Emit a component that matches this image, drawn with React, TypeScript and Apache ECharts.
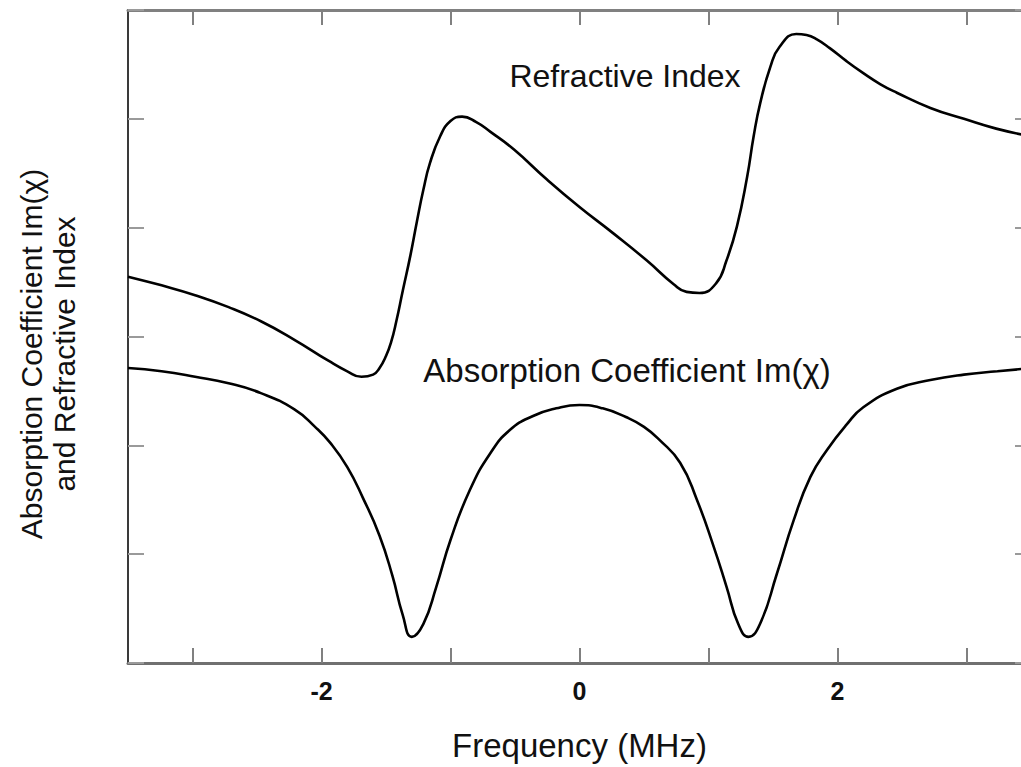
import React, { useEffect, useRef } from "react";
import * as echarts from "echarts";

// Frequency (MHz) sample positions and values
const absX = [
  -3.5, -3.24, -2.98, -2.72, -2.47, -2.21, -2.05, -1.93, -1.8, -1.68, -1.55, -1.45,
  -1.37, -1.3, -1.21, -1.11, -1.0, -0.85, -0.69, -0.54, -0.36, -0.18, 0.0, 0.18,
  0.36, 0.5, 0.62, 0.78, 0.91, 1.04, 1.14, 1.23, 1.31, 1.4, 1.53, 1.66, 1.79, 1.92,
  2.07, 2.2, 2.46, 2.72, 2.98, 3.24, 3.5,
];
const absY = [
  2.71, 2.68, 2.63, 2.57, 2.48, 2.33, 2.17, 2.02, 1.8, 1.52, 1.17, 0.8,
  0.44, 0.24, 0.36, 0.7, 1.13, 1.59, 1.93, 2.14, 2.27, 2.34, 2.37, 2.34,
  2.26, 2.17, 2.05, 1.84, 1.5, 1.07, 0.7, 0.36, 0.24, 0.36, 0.82, 1.31, 1.71, 1.96,
  2.19, 2.35, 2.52, 2.6, 2.65, 2.68, 2.71,
];

const refX = [
  -3.5, -3.24, -2.98, -2.72, -2.47, -2.21, -1.95, -1.8, -1.69, -1.6, -1.55, -1.5, -1.46,
  -1.42, -1.37, -1.31, -1.26, -1.21, -1.16, -1.08, -1.0, -0.91, -0.8, -0.69, -0.51,
  -0.25, 0.0, 0.26, 0.52, 0.73, 0.83, 0.93, 1.06, 1.14, 1.22, 1.3, 1.35, 1.4, 1.48,
  1.55, 1.68, 1.76, 1.84, 1.94, 2.07, 2.2, 2.33, 2.46, 2.72, 2.98, 3.23, 3.5,
];
const refY = [
  3.55, 3.47, 3.38, 3.27, 3.14, 2.97, 2.78, 2.68, 2.63, 2.65, 2.71, 2.82, 2.95,
  3.14, 3.42, 3.75, 4.06, 4.35, 4.59, 4.84, 4.98, 5.02, 4.97, 4.88, 4.72,
  4.44, 4.19, 3.95, 3.7, 3.48, 3.41, 3.4, 3.49, 3.7, 4.01, 4.47, 4.84, 5.14, 5.48,
  5.66, 5.78, 5.77, 5.73, 5.65, 5.53, 5.42, 5.32, 5.24, 5.1, 5.0, 4.91, 4.84,
];

const xTicks = [-3, -2, -1, 0, 1, 2, 3];
const xLabels = [-2, 0, 2];

const FONT = "'Liberation Sans', Arial, Helvetica, sans-serif";

export default function App() {
  const ref = useRef<HTMLDivElement>(null);

  useEffect(() => {
    if (!ref.current) return;
    const chart = echarts.init(ref.current, null, { renderer: "svg" });
    const absData = absX.map((x, i) => [x, absY[i]]);
    const refData = refX.map((x, i) => [x, refY[i]]);

    const tickGray = "#808080";

    const yAxisBase = (position: string) => ({
      type: "value",
      position,
      min: 0,
      max: 6,
      interval: 1,
      axisLine: { show: true, onZero: false, lineStyle: { color: "#3a3a3a", width: 2 } },
      axisTick: { show: true, inside: true, length: 16, lineStyle: { color: "#9a9a9a", width: 2 } },
      axisLabel: { show: false },
      splitLine: { show: false },
    });

    chart.setOption({
      animation: false,
      backgroundColor: "#fff",
      grid: { left: 128, top: 10, width: 903, height: 653, containLabel: false },
      xAxis: [
        {
          type: "value",
          position: "bottom",
          min: -3.5,
          max: 3.5,
          axisLine: { show: true, onZero: false, lineStyle: { color: "#707070", width: 3 } },
          axisTick: {
            show: true,
            inside: true,
            length: 15,
            customValues: xTicks,
            lineStyle: { color: tickGray, width: 2 },
          },
          axisLabel: {
            show: true,
            customValues: xLabels,
            fontSize: 25,
            fontWeight: "bold",
            color: "#111",
            margin: 15,
            fontFamily: FONT,
          },
          splitLine: { show: false },
          name: "Frequency (MHz)",
          nameLocation: "middle",
          nameGap: 66,
          nameTextStyle: { fontSize: 33, color: "#111", fontFamily: FONT },
        },
        {
          type: "value",
          position: "top",
          min: -3.5,
          max: 3.5,
          axisLine: { show: true, onZero: false, lineStyle: { color: "#808080", width: 3 } },
          axisTick: {
            show: true,
            inside: true,
            length: 15,
            customValues: xTicks,
            lineStyle: { color: tickGray, width: 2 },
          },
          axisLabel: { show: false },
          splitLine: { show: false },
        },
      ],
      yAxis: [yAxisBase("left"), yAxisBase("right")],
      series: [
        {
          name: "Refractive Index",
          type: "line",
          xAxisIndex: 0,
          yAxisIndex: 0,
          data: refData,
          showSymbol: false,
          symbol: "none",
          smooth: 0.5,
          lineStyle: { color: "#000", width: 2.6 },
        },
        {
          name: "Absorption Coefficient Im(χ)",
          type: "line",
          xAxisIndex: 0,
          yAxisIndex: 0,
          data: absData,
          showSymbol: false,
          symbol: "none",
          smooth: 0.5,
          lineStyle: { color: "#000", width: 2.6 },
        },
      ],
      graphic: [
        {
          type: "text",
          x: 625,
          y: 76,
          style: {
            text: "Refractive Index",
            fontSize: 32,
            fontFamily: FONT,
            fill: "#111",
            textAlign: "center",
            textVerticalAlign: "middle",
          },
        },
        {
          type: "text",
          x: 627,
          y: 370,
          style: {
            text: "Absorption Coefficient Im(χ)",
            fontSize: 33,
            fontFamily: FONT,
            fill: "#111",
            textAlign: "center",
            textVerticalAlign: "middle",
          },
        },
        {
          type: "text",
          x: 48,
          y: 354,
          rotation: Math.PI / 2,
          style: {
            text: "Absorption Coefficient Im(χ)\nand Refractive Index",
            fontSize: 30,
            lineHeight: 33,
            fontFamily: FONT,
            fill: "#111",
            textAlign: "center",
            textVerticalAlign: "middle",
          },
        },
      ],
    });

    return () => chart.dispose();
  }, []);

  return (
    <div
      style={{
        position: "fixed",
        left: 0,
        top: 0,
        width: 1021,
        height: 767,
        overflow: "hidden",
        background: "#fff",
      }}
    >
      <div ref={ref} style={{ width: 1045, height: 767 }} />
    </div>
  );
}
